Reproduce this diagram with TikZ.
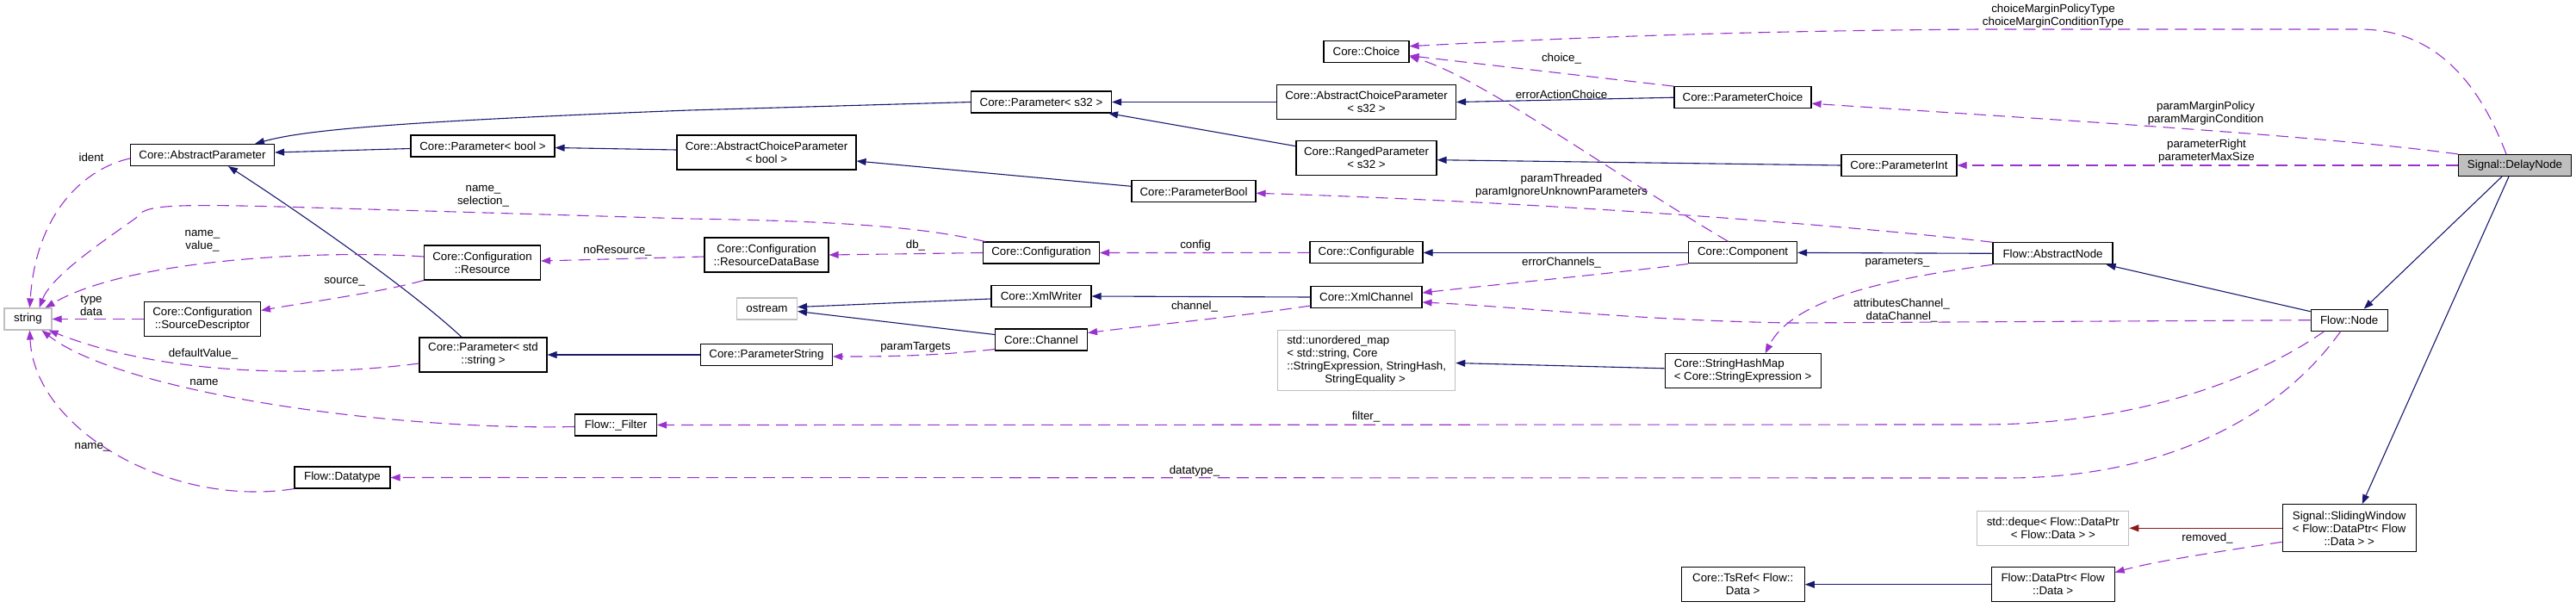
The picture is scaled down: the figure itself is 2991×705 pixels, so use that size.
\documentclass[tikz,border=0pt]{standalone}
\usepackage{fontspec}
\newfontfamily\dxfont{Liberation Sans}
\usetikzlibrary{arrows.meta,positioning,calc}
\definecolor{inhblue}{HTML}{191970}
\definecolor{usepurple}{HTML}{9A32CD}
\definecolor{privred}{HTML}{8B1A1A}
\definecolor{extgray}{HTML}{BFBFBF}
\tikzset{
  % Class box: one per class, name inside
  cls/.style={draw=black, rectangle, fill=white, line width=1.1pt, align=center,
              inner xsep=3pt, inner ysep=2pt, minimum height=25pt,
              font=\dxfont\fontsize{13.3}{15}\selectfont},
  cls-ext/.style={cls, draw=extgray},
  cls-focus/.style={cls, fill=extgray},
  % Connectors
  inh/.style={-{Triangle[length=11pt,width=8pt]}, line width=1.1pt, draw=inhblue},
  inh-priv/.style={inh, draw=privred},
  usage/.style={-{Triangle[length=11pt,width=8pt]}, line width=1.1pt, draw=usepurple,
                dash pattern=on 14pt off 8pt},
  % Member name on a usage connector
  lbl/.style={font=\dxfont\fontsize{13.3}{15}\selectfont, align=center, inner sep=0pt, text=black}
}

\begin{document}
\begin{tikzpicture}[x=1pt, y=-1pt]

\path[use as bounding box, fill=white] (0,0) rectangle (2991,705);

% ============== LEFT: strings and parameters ==============
\node[cls-ext, minimum width=55] (str) at (32.5,370.5) {string};
\node[cls, minimum width=167] (absparam) at (235,180) {Core::AbstractParameter};
\node[cls, minimum width=135, minimum height=40] (srcdesc) at (235,370.5) {Core::Configuration\\::SourceDescriptor};
\node[cls, minimum width=111] (datatype) at (397.5,554.5) {Flow::Datatype};
\node[cls, minimum width=167] (parbool) at (560.5,169.5) {Core::Parameter< bool >};
\node[cls, minimum width=135, minimum height=40] (resource) at (560,305) {Core::Configuration\\::Resource};
\node[cls, minimum width=148, minimum height=40] (parstr) at (561,412) {Core::Parameter< std\\::string >};
\node[cls, minimum width=95] (filter) at (715,493.5) {Flow::\_Filter};

% ============== MIDDLE: configuration and channels ==============
\node[cls, minimum width=208, minimum height=40] (acpbool) at (890,177) {Core::AbstractChoiceParameter\\< bool >};
\node[cls, minimum width=144, minimum height=40] (resdb) at (890,296) {Core::Configuration\\::ResourceDataBase};
\node[cls-ext, minimum width=70] (ostream) at (890.5,358.5) {ostream};
\node[cls, minimum width=153] (parstring) at (890,412) {Core::ParameterString};
\node[cls, minimum width=163] (pars32) at (1209,118.5) {Core::Parameter< s32 >};
\node[cls, minimum width=135] (config) at (1209,293.5) {Core::Configuration};
\node[cls, minimum width=116] (xmlwriter) at (1209,344) {Core::XmlWriter};
\node[cls, minimum width=107] (channel) at (1209,394.5) {Core::Channel};
\node[cls, minimum width=144] (parambool) at (1386,222.3) {Core::ParameterBool};

\node[cls, minimum width=99] (choice) at (1586.5,59.7) {Core::Choice};
\node[cls, minimum width=208, minimum height=40] (acps32) at (1586.5,118.5) {Core::AbstractChoiceParameter\\< s32 >};
\node[cls, minimum width=163, minimum height=40] (ranged) at (1586.5,183.7) {Core::RangedParameter\\< s32 >};
\node[cls, minimum width=131] (configurable) at (1586.5,293.4) {Core::Configurable};
\node[cls, minimum width=129] (xmlchannel) at (1586.5,345) {Core::XmlChannel};
\node[cls-ext, minimum width=206, minimum height=70, align=left] (umap) at (1586.7,418.5)
  {std::unordered\_map\\< std::string, Core\\::StringExpression, StringHash,\\\hspace*{44pt}StringEquality >};

% ============== RIGHT: flow nodes ==============
\node[cls, minimum width=159] (paramchoice) at (2023.5,113.2) {Core::ParameterChoice};
\node[cls, minimum width=126] (component) at (2023.6,293.4) {Core::Component};
\node[cls, minimum width=181, minimum height=40, align=left] (strhashmap) at (2023.6,430.8) {Core::StringHashMap\\< Core::StringExpression >};
\node[cls, minimum width=143, minimum height=40] (tsref) at (2023.7,678.7) {Core::TsRef< Flow::\\Data >};
\node[cls, minimum width=134] (paramint) at (2205,192) {Core::ParameterInt};
\node[cls, minimum width=139] (absnode) at (2383.5,294.3) {Flow::AbstractNode};
\node[cls-ext, minimum width=176, minimum height=40] (deque) at (2383.8,613.3) {std::deque< Flow::DataPtr\\< Flow::Data > >};
\node[cls, minimum width=143, minimum height=40] (dataptr) at (2383.6,678.7) {Flow::DataPtr< Flow\\::Data >};
\node[cls, minimum width=89] (flownode) at (2727.7,371.7) {Flow::Node};
\node[cls, minimum width=155, minimum height=55] (sliding) at (2727.7,613.3) {Signal::SlidingWindow\\< Flow::DataPtr< Flow\\::Data > >};
\node[cls-focus, minimum width=131] (delay) at (2920,192) {Signal::DelayNode};

% ============== Inheritance ==============
\draw[inh] (pars32.west) -- (800,128) .. controls (440,142) and (350,152) .. ([xshift=61]absparam.north);
\draw[inh] ([yshift=-3]parbool.west) -- ([yshift=3]absparam.east);
\draw[inh] ([yshift=3]acpbool.west) -- ([yshift=-2]parbool.east);
\draw[inh] ([xshift=-25]parstr.north) .. controls (470,330) and (330,235) .. ([xshift=30]absparam.south);
\draw[inh] (parstring.west) -- (parstr.east);
\draw[inh] (acps32.west) -- (pars32.east);
\draw[inh] ([yshift=14]ranged.west) -- ([xshift=-4]pars32.south east);
\draw[inh] ([yshift=6]parambool.west) -- ([yshift=-10]acpbool.east);
\draw[inh] (paramchoice.west) -- (acps32.east);
\draw[inh] (paramint.west) -- ([yshift=-2]ranged.east);
\draw[inh] (component.west) -- (configurable.east);
\draw[inh] (absnode.west) -- (component.east);
\draw[inh] (xmlchannel.west) -- (xmlwriter.east);
\draw[inh] ([yshift=-3]xmlwriter.west) -- ([yshift=2]ostream.east);
\draw[inh] ([yshift=6]channel.west) -- ([yshift=-3]ostream.east);
\draw[inh] ([yshift=3]strhashmap.west) -- ([yshift=-3]umap.east);
\draw[inh] ([yshift=10]flownode.west) -- ([xshift=-8]absnode.south east);
\draw[inh] ([xshift=-15]delay.south) -- ([xshift=17]flownode.north);
\draw[inh] ([xshift=-7]delay.south) -- ([xshift=15]sliding.north);
\draw[inh] (dataptr.west) -- (tsref.east);
\draw[inh-priv] (sliding.west) -- (deque.east);

% ============== Usage (member) ==============
\draw[usage] ([yshift=-4]absparam.west) .. controls (100,195) and (42,245) .. ([xshift=2]str.north)
  node[lbl] (l-ident) at (106,183) {ident};
\draw[usage] ([xshift=3]config.north west) .. controls (1080,266) and (1000,257) .. (800,254) -- (360,241)
  .. controls (190,236) and (168,238) .. (158,253) .. controls (120,280) and (60,320) .. ([xshift=13]str.north)
  node[lbl] (l-name-sel) at (561,228) {name\_\\selection\_};
\draw[usage] ([yshift=7]resource.west) .. controls (380,290) and (150,300) .. ([xshift=20]str.north)
  node[lbl] (l-name-val) at (235,280) {name\_\\value\_};
\draw[usage] (resource.south west) .. controls (440,340) and (350,352) .. ([yshift=10]srcdesc.east)
  node[lbl] (l-source) at (400,327) {source\_};
\draw[usage] (srcdesc.west) -- (str.east)
  node[lbl] (l-typedata) at (106,355) {type\\data};
\draw[usage] ([yshift=-10]parstr.west) .. controls (380,436) and (200,440) .. ([xshift=-4]str.south east)
  node[lbl] (l-default) at (236,411) {defaultValue\_};
\draw[usage] ([yshift=-2]filter.west) .. controls (450,500) and (140,455) .. ([xshift=16]str.south)
  node[lbl] (l-name) at (237,444) {name};
\draw[usage] (datatype.south west) .. controls (200,590) and (40,500) .. ([xshift=2]str.south)
  node[lbl] (l-name2) at (107,519) {name\_};
\draw[usage] ([yshift=-2]resdb.west) -- ([yshift=2]resource.east)
  node[lbl] (l-nores) at (717,291) {noResource\_};
\draw[usage] (config.west) -- (resdb.east)
  node[lbl] (l-db) at (1063,285) {db\_};
\draw[usage] (configurable.west) -- (config.east)
  node[lbl] (l-config) at (1388,285) {config};
\draw[usage] ([yshift=-10]xmlchannel.west) .. controls (1420,370) and (1330,378) .. ([yshift=8]channel.east)
  node[lbl] (l-channel) at (1387,356) {channel\_};
\draw[usage] ([yshift=-11]channel.west) .. controls (1080,414) and (1020,414) .. ([yshift=-2]parstring.east)
  node[lbl] (l-targets) at (1063,403) {paramTargets};
\draw[usage] (component.south west) .. controls (1850,320) and (1720,332) .. ([yshift=5]xmlchannel.east)
  node[lbl] (l-errch) at (1813,305) {errorChannels\_};
\draw[usage] (flownode.west) -- (2080,375) .. controls (1900,372) and (1760,356) .. ([yshift=-6]xmlchannel.east)
  node[lbl] (l-attr) at (2208,360) {attributesChannel\_\\dataChannel\_};
\draw[usage] (absnode.south west) .. controls (2180,325) and (2080,350) .. ([xshift=26]strhashmap.north)
  node[lbl] (l-params) at (2203,305) {parameters\_};
\draw[usage] (absnode.north west) .. controls (2150,262) and (1800,235) .. ([yshift=-2]parambool.east)
  node[lbl] (l-threaded) at (1813,215.5) {paramThreaded\\paramIgnoreUnknownParameters};
\draw[usage] ([xshift=-17]component.north) .. controls (1870,200) and (1720,90) .. ([yshift=-6]choice.east)
  node[lbl] (l-erract) at (1813,110) {errorActionChoice};
\draw[usage] (paramchoice.north west) -- ([yshift=-5]choice.east)
  node[lbl] (l-choice) at (1813,68) {choice\_};
\draw[usage] ([xshift=-10]delay.north) .. controls (2880,100) and (2830,34) .. (2740,34) -- (2300,34)
  .. controls (2000,36) and (1800,45) .. ([yshift=6]choice.east)
  node[lbl] (l-cmargin) at (2384,19) {choiceMarginPolicyType\\choiceMarginConditionType};
\draw[usage] (delay.north west) .. controls (2700,158) and (2400,140) .. ([yshift=-7]paramchoice.east)
  node[lbl] (l-pmargin) at (2561,132) {paramMarginPolicy\\paramMarginCondition};
\draw[usage] (delay.west) -- (paramint.east)
  node[lbl] (l-pright) at (2562,176) {parameterRight\\parameterMaxSize};
\draw[usage] ([xshift=16]flownode.south west) .. controls (2620,440) and (2480,493) .. (2300,493) -- (filter.east)
  node[lbl] (l-filter) at (1586,484) {filter\_};
\draw[usage] ([xshift=-10]flownode.south) .. controls (2650,480) and (2520,555) .. (2330,555) -- (datatype.east)
  node[lbl] (l-datatype) at (1387,547) {datatype\_};
\draw[usage] ([yshift=-16]sliding.west) .. controls (2580,640) and (2500,652) .. ([yshift=14]dataptr.east)
  node[lbl] (l-removed) at (2563,625) {removed\_};

\end{tikzpicture}
\end{document}
